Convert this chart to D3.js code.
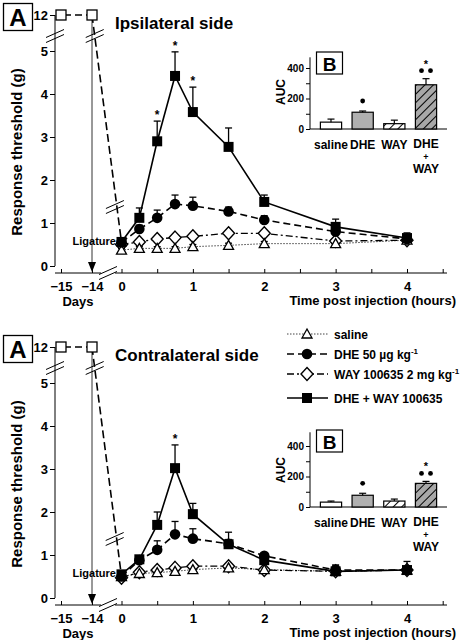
<!DOCTYPE html>
<html><head><meta charset="utf-8">
<script src="https://cdn.jsdelivr.net/npm/d3@7"></script>
<style>
html,body{margin:0;padding:0;background:#fff;}
svg text{font-family:"Liberation Sans",Arial,sans-serif;font-weight:bold;fill:#000;}
</style></head>
<body><svg id="c" width="461" height="640"></svg>
<script>
// ---------- DATA ----------
const hours = [0, 0.25, 0.5, 0.75, 1, 1.5, 2, 3, 4];
const hourTicks = [0, 0.5, 1, 1.5, 2, 2.5, 3, 3.5, 4, 4.5];
const days = [-15, -14];
const dayBaseline = [12, 12];
const yTicks = [0, 1, 2, 3, 4, 5];

const ipsiSaline = [0.37, 0.41, 0.41, 0.41, 0.45, 0.48, 0.52, 0.52, 0.60];
const ipsiSalineErr = [0.04, 0.04, 0.04, 0.04, 0.05, 0.05, 0.05, 0.05, 0.05];
const ipsiDHE = [0.55, 0.86, 1.12, 1.44, 1.40, 1.27, 1.07, 0.80, 0.63];
const ipsiDHEErr = [0.05, 0.09, 0.18, 0.21, 0.20, 0.10, 0.10, 0.10, 0.05];
const ipsiWAY = [0.50, 0.56, 0.63, 0.66, 0.69, 0.76, 0.76, 0.58, 0.60];
const ipsiWAYErr = [0.04, 0.04, 0.04, 0.04, 0.04, 0.04, 0.04, 0.04, 0.04];
const ipsiCombo = [0.56, 1.12, 2.90, 4.42, 3.58, 2.77, 1.49, 0.91, 0.65];
const ipsiComboErr = [0.05, 0.23, 0.47, 0.56, 0.58, 0.44, 0.16, 0.18, 0.12];
const ipsiStars = [0.5, 0.75, 1];

const contraSaline = [0.50, 0.57, 0.59, 0.62, 0.66, 0.70, 0.66, 0.62, 0.65];
const contraSalineErr = [0.04, 0.04, 0.04, 0.04, 0.04, 0.04, 0.04, 0.04, 0.04];
const contraDHE = [0.50, 0.88, 1.12, 1.48, 1.38, 1.26, 0.98, 0.65, 0.65];
const contraDHEErr = [0.05, 0.05, 0.21, 0.30, 0.23, 0.10, 0.05, 0.10, 0.05];
const contraWAY = [0.47, 0.60, 0.65, 0.70, 0.74, 0.74, 0.65, 0.62, 0.65];
const contraWAYErr = [0.04, 0.04, 0.04, 0.04, 0.04, 0.04, 0.04, 0.04, 0.04];
const contraCombo = [0.55, 0.90, 1.70, 3.02, 1.95, 1.25, 0.88, 0.62, 0.65];
const contraComboErr = [0.08, 0.08, 0.30, 0.54, 0.25, 0.28, 0.10, 0.15, 0.20];
const contraStars = [0.75];

const aucCats = ["saline", "DHE", "WAY", "DHE + WAY"];
const aucTicks = [0, 100, 200, 300, 400];
const aucTickLabels = [0, 200, 400];
const ipsiAUC = [45, 110, 35, 290];
const ipsiAUCErr = [20, 8, 23, 40];
const contraAUC = [32, 77, 39, 155];
const contraAUCErr = [7, 13, 13, 13];
const aucDots = [0, 1, 0, 2];
const aucStars = [0, 0, 0, 1];

const legendLabels = ["saline", "DHE 50 µg kg", "WAY 100635 2 mg kg", "DHE + WAY 100635"];

// ---------- DRAW ----------
const svg = d3.select("#c");
const defs = svg.append("defs");
function hatch(id, bg) {
  const p = defs.append("pattern").attr("id", id).attr("patternUnits", "userSpaceOnUse")
    .attr("width", 6).attr("height", 6).attr("patternTransform", "rotate(45)");
  p.append("rect").attr("width", 6).attr("height", 6).attr("fill", bg);
  p.append("line").attr("x1", 0).attr("y1", 0).attr("x2", 0).attr("y2", 6)
    .attr("stroke", "#000").attr("stroke-width", 2);
}
hatch("hatchW", "#fff");
hatch("hatchG", "#a8a8a8");
const barFills = ["#fff", "#b0b0b0", "url(#hatchW)", "url(#hatchG)"];

const styles = {
  saline: {dash: "1.5,1.5", width: 1, color: "#444"},
  dhe: {dash: "7,4", width: 1.6, color: "#000"},
  way: {dash: "7,3,2,3", width: 1.3, color: "#000"},
  combo: {dash: null, width: 1.6, color: "#000"}
};

function marker(g, type, x, y) {
  if (type === "square") g.append("rect").attr("x", x - 5).attr("y", y - 5).attr("width", 10).attr("height", 10).attr("fill", "#000");
  else if (type === "openSquare") g.append("rect").attr("x", x - 5).attr("y", y - 5).attr("width", 10).attr("height", 10).attr("fill", "#fff").attr("stroke", "#000").attr("stroke-width", 1.3);
  else if (type === "circle") g.append("circle").attr("cx", x).attr("cy", y).attr("r", 5.3).attr("fill", "#000");
  else if (type === "diamond") g.append("path").attr("d", `M${x},${y - 6.5}L${x + 6},${y}L${x},${y + 6.5}L${x - 6},${y}Z`).attr("fill", "#fff").attr("stroke", "#000").attr("stroke-width", 1.4);
  else if (type === "triangle") g.append("path").attr("d", `M${x},${y - 5}L${x + 5},${y + 4}L${x - 5},${y + 4}Z`).attr("fill", "#fff").attr("stroke", "#000").attr("stroke-width", 1.3);
}

function slashes(g, cx, cy) {
  [-2.5, 2.5].forEach(o => g.append("line").attr("x1", cx - 9).attr("y1", cy + o + 4).attr("x2", cx + 9).attr("y2", cy + o - 4)
    .attr("stroke", "#000").attr("stroke-width", 1));
}

function panel(oy, title, sal, salE, dhe, dheE, way, wayE, combo, comboE, stars) {
  const g = svg.append("g");
  const xH = d3.scaleLinear().domain([0, 4]).range([121.5, 407]);
  const xD = d3.scaleLinear().domain([-15, -14]).range([61, 92]);
  const yL = d3.scaleLinear().domain([0, 5]).range([266 + oy, 51 + oy]);
  const yT = d3.scaleLinear().domain([11, 12]).range([30 + oy, 15 + oy]);
  const axisY = 273 + oy;

  g.append("rect").attr("x", 3.5).attr("y", 3.5 + oy).attr("width", 29).attr("height", 27).attr("fill", "#fff").attr("stroke", "#000").attr("stroke-width", 1.3);
  g.append("text").attr("x", 18).attr("y", 26 + oy).attr("text-anchor", "middle").attr("font-size", 24).text("A");
  g.append("text").attr("x", 115).attr("y", 29 + oy).attr("font-size", 17).text(title);

  g.append("line").attr("x1", 55).attr("x2", 55).attr("y1", yT(12)).attr("y2", yL(0)).attr("stroke", "#000").attr("stroke-width", 1);
  const ay = g.append("g").attr("transform", "translate(55,0)")
    .call(d3.axisLeft(yL).tickValues(yTicks).tickSize(5).tickFormat(d3.format("d")));
  const ay2 = g.append("g").attr("transform", "translate(55,0)")
    .call(d3.axisLeft(yT).tickValues([12]).tickSize(5).tickFormat(d3.format("d")));
  [ay, ay2].forEach(a => {
    a.select(".domain").remove();
    a.selectAll("text").attr("font-size", 13).attr("font-family", null).attr("x", -7);
    a.selectAll("line").attr("stroke", "#000");
  });
  slashes(g, 55, 36 + oy);
  g.append("text").attr("transform", `translate(22,${152 + oy}) rotate(-90)`).attr("text-anchor", "middle").attr("font-size", 15).text("Response threshold (g)");

  g.append("line").attr("x1", 55).attr("x2", 447).attr("y1", axisY).attr("y2", axisY).attr("stroke", "#000").attr("stroke-width", 1);
  const ax = g.append("g").attr("transform", `translate(0,${axisY})`)
    .call(d3.axisBottom(xH).tickValues(hourTicks).tickSize(-4).tickPadding(9).tickFormat(d => Number.isInteger(d) ? d : ""));
  const axd = g.append("g").attr("transform", `translate(0,${axisY})`)
    .call(d3.axisBottom(xD).tickValues(days).tickSize(-4).tickPadding(9).tickFormat(d3.format("d")));
  [ax, axd].forEach(a => {
    a.select(".domain").remove();
    a.selectAll("text").attr("font-size", 13).attr("font-family", null);
    a.selectAll("line").attr("stroke", "#000");
  });
  g.append("rect").attr("x", 101).attr("y", axisY - 3).attr("width", 14).attr("height", 6).attr("fill", "#fff");
  slashes(g, 108, axisY);
  g.append("text").attr("x", 78).attr("y", 306 + oy).attr("text-anchor", "middle").attr("font-size", 13).text("Days");
  g.append("text").attr("x", 456).attr("y", 305 + oy).attr("text-anchor", "end").attr("font-size", 13).text("Time post injection (hours)");

  g.append("line").attr("x1", xD(-14)).attr("x2", xD(-14)).attr("y1", yT(12)).attr("y2", axisY - 7).attr("stroke", "#333").attr("stroke-width", 1);
  g.append("path").attr("d", `M${xD(-14) - 4},${axisY - 11}L${xD(-14) + 4},${axisY - 11}L${xD(-14)},${axisY - 1}Z`).attr("fill", "#000");
  g.append("text").attr("x", 116).attr("y", 245 + oy).attr("text-anchor", "end").attr("font-size", 11).text("Ligature");

  const x0 = xD(-14), y0 = yT(12), x1 = xH(0), y1 = yL(dhe[0]);
  g.append("line").attr("x1", xD(days[0])).attr("x2", xD(days[1])).attr("y1", yT(dayBaseline[0])).attr("y2", yT(dayBaseline[1]))
    .attr("stroke", "#000").attr("stroke-width", 1.6).attr("stroke-dasharray", "7,4").attr("stroke-dashoffset", -3);
  g.append("line").attr("x1", x0).attr("y1", y0).attr("x2", x1).attr("y2", y1)
    .attr("stroke", "#000").attr("stroke-width", 1.6).attr("stroke-dasharray", "8,4");
  const bAt = yy => x0 + (x1 - x0) * (yy - y0) / (y1 - y0);
  slashes(g, bAt(36 + oy), 36 + oy);
  slashes(g, bAt(207 + oy) - 2, 207 + oy);
  days.forEach((d, i) => marker(g, "openSquare", xD(d), yT(dayBaseline[i])));

  const series = [
    {v: sal, e: salE, s: styles.saline, m: "triangle"},
    {v: way, e: wayE, s: styles.way, m: "diamond"},
    {v: dhe, e: dheE, s: styles.dhe, m: "circle"},
    {v: combo, e: comboE, s: styles.combo, m: "square"}
  ];
  const line = d3.line().x((d, i) => xH(hours[i])).y(d => yL(d));
  series.forEach(S => {
    g.append("path").datum(S.v).attr("d", line).attr("fill", "none").attr("stroke", S.s.color)
      .attr("stroke-width", S.s.width).attr("stroke-dasharray", S.s.dash);
  });
  series.forEach(S => {
    S.v.forEach((v, i) => {
      const x = xH(hours[i]), ya = yL(v), yb = yL(v + S.e[i]);
      g.append("line").attr("x1", x).attr("x2", x).attr("y1", ya).attr("y2", yb).attr("stroke", "#000").attr("stroke-width", 1.3);
      g.append("line").attr("x1", x - 3.5).attr("x2", x + 3.5).attr("y1", yb).attr("y2", yb).attr("stroke", "#000").attr("stroke-width", 1.3);
    });
  });
  [1, 0, 2, 3].forEach(k => {
    const S = series[k];
    S.v.forEach((v, i) => marker(g, S.m, xH(hours[i]), yL(v)));
  });
  stars.forEach(h => {
    const i = hours.indexOf(h);
    g.append("text").attr("x", xH(h)).attr("y", yL(combo[i] + comboE[i]) - 2).attr("text-anchor", "middle").attr("font-size", 12).text("*");
  });
}

function inset(base, maxV, vals, errs) {
  const g = svg.append("g");
  const y = d3.scaleLinear().domain([0, 400]).range([base, base - 61]);
  const x = d3.scaleBand().domain(aucCats).range([315, 442]).paddingInner(0.33).paddingOuter(0.17);
  g.append("line").attr("x1", 310).attr("x2", 310).attr("y1", y(maxV)).attr("y2", base).attr("stroke", "#000");
  g.append("line").attr("x1", 310).attr("x2", 447).attr("y1", base).attr("y2", base).attr("stroke", "#000");
  const a = g.append("g").attr("transform", "translate(310,0)")
    .call(d3.axisLeft(y).tickValues(aucTicks).tickSize(4).tickFormat(d => aucTickLabels.includes(d) ? d : ""));
  a.select(".domain").remove();
  a.selectAll("text").attr("font-size", 10).attr("font-family", null).attr("x", -6);
  a.selectAll("line").attr("stroke", "#000");
  g.append("text").attr("transform", `translate(285,${base - 37}) rotate(-90)`).attr("text-anchor", "middle").attr("font-size", 12).text("AUC");
  g.append("rect").attr("x", 316.5).attr("y", base - 77).attr("width", 26).attr("height", 22).attr("fill", "#fff").attr("stroke", "#000").attr("stroke-width", 1.2);
  g.append("text").attr("x", 329.5).attr("y", base - 58.5).attr("text-anchor", "middle").attr("font-size", 19).text("B");
  aucCats.forEach((c, i) => {
    const bx = x(c), bw = x.bandwidth(), cx = bx + bw / 2;
    g.append("rect").attr("x", bx).attr("y", y(vals[i])).attr("width", bw).attr("height", base - y(vals[i]))
      .attr("fill", barFills[i]).attr("stroke", "#000").attr("stroke-width", 1.2);
    const yt = y(vals[i] + errs[i]);
    g.append("line").attr("x1", cx).attr("x2", cx).attr("y1", y(vals[i])).attr("y2", yt).attr("stroke", "#000").attr("stroke-width", 1.2);
    g.append("line").attr("x1", cx - 3.5).attr("x2", cx + 3.5).attr("y1", yt).attr("y2", yt).attr("stroke", "#000").attr("stroke-width", 1.2);
    if (aucDots[i] === 1) g.append("circle").attr("cx", cx).attr("cy", yt - 10).attr("r", 2.4).attr("fill", "#000");
    if (aucDots[i] === 2) [-4.5, 4.5].forEach(o => g.append("circle").attr("cx", cx + o).attr("cy", yt - 8).attr("r", 2.4).attr("fill", "#000"));
    if (aucStars[i]) g.append("text").attr("x", cx).attr("y", yt - 11).attr("text-anchor", "middle").attr("font-size", 11).text("*");
    const parts = c.split(" ");
    if (parts.length === 1) {
      g.append("text").attr("x", cx).attr("y", base + 20).attr("text-anchor", "middle").attr("font-size", 12).text(c);
    } else {
      const sizes = [12, 9, 12];
      const ys = [base + 19, base + 31, base + 44];
      parts.forEach((p, k) => g.append("text").attr("x", cx).attr("y", ys[k]).attr("text-anchor", "middle").attr("font-size", sizes[k]).text(p));
    }
  });
}

panel(0, "Ipsilateral side", ipsiSaline, ipsiSalineErr, ipsiDHE, ipsiDHEErr, ipsiWAY, ipsiWAYErr, ipsiCombo, ipsiComboErr, ipsiStars);
panel(332, "Contralateral side", contraSaline, contraSalineErr, contraDHE, contraDHEErr, contraWAY, contraWAYErr, contraCombo, contraComboErr, contraStars);
inset(129, 470, ipsiAUC, ipsiAUCErr);
inset(507, 490, contraAUC, contraAUCErr);

const legY = [334, 354, 374, 398];
const legStyle = [styles.saline, styles.dhe, styles.way, styles.combo];
const legMark = ["triangle", "circle", "diamond", "square"];
const lg = svg.append("g");
legendLabels.forEach((lab, i) => {
  const yy = legY[i];
  lg.append("line").attr("x1", 287).attr("x2", 328).attr("y1", yy).attr("y2", yy).attr("stroke", legStyle[i].color)
    .attr("stroke-width", legStyle[i].width).attr("stroke-dasharray", legStyle[i].dash);
  marker(lg, legMark[i], 307, yy);
  const t = lg.append("text").attr("x", 334).attr("y", yy + 4.5).attr("font-size", 12).text(lab);
  if (i === 1 || i === 2) t.append("tspan").attr("dy", -5).attr("font-size", 8).text("-1");
});
</script></body></html>
